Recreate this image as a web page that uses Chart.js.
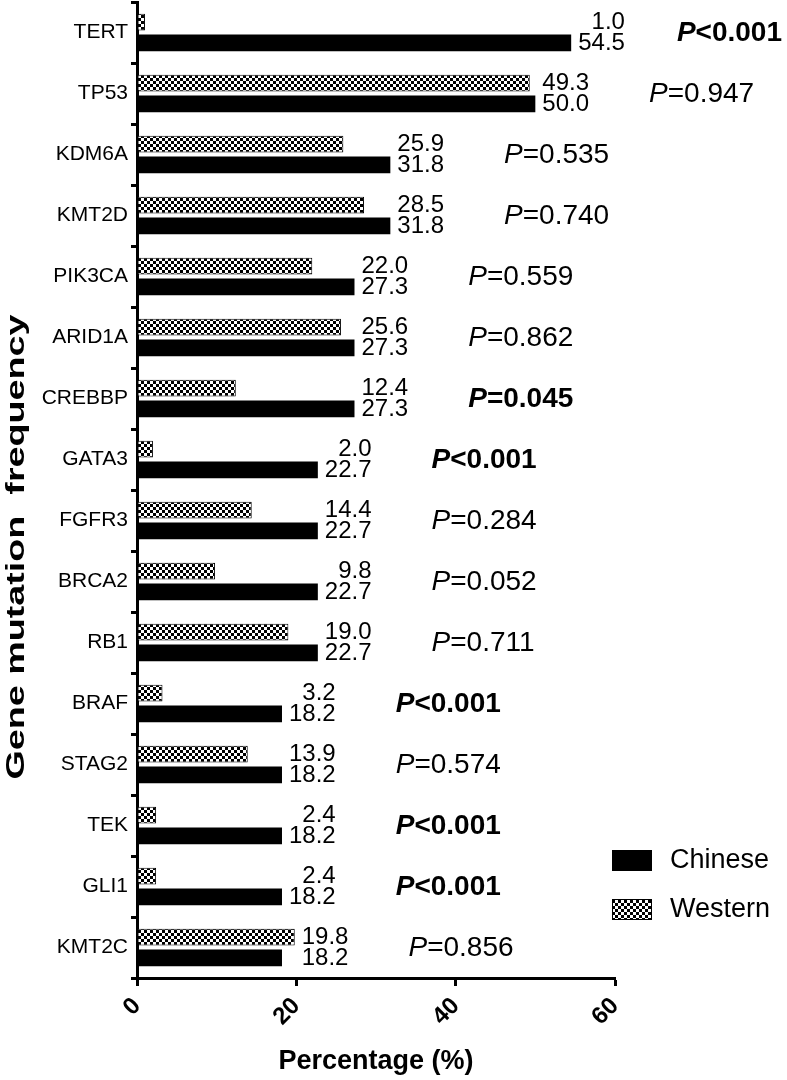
<!DOCTYPE html>
<html>
<head>
<meta charset="utf-8">
<script src="https://cdn.jsdelivr.net/npm/chart.js@4.4.1/dist/chart.umd.min.js"></script>
<style>
  body { margin: 0; background: #fff; }
  canvas { display: block; }
</style>
</head>
<body>
<canvas id="chart" width="787" height="1080"></canvas>
<script>
const genes = ['TERT', 'TP53', 'KDM6A', 'KMT2D', 'PIK3CA', 'ARID1A', 'CREBBP', 'GATA3',
    'FGFR3', 'BRCA2', 'RB1', 'BRAF', 'STAG2', 'TEK', 'GLI1', 'KMT2C'];
const chinese = [54.5, 50.0, 31.8, 31.8, 27.3, 27.3, 27.3, 22.7, 22.7, 22.7, 22.7, 18.2, 18.2, 18.2, 18.2, 18.2];
const western = [1.0, 49.3, 25.9, 28.5, 22.0, 25.6, 12.4, 2.0, 14.4, 9.8, 19.0, 3.2, 13.9, 2.4, 2.4, 19.8];
const pValues = ['<0.001', '=0.947', '=0.535', '=0.740', '=0.559', '=0.862', '=0.045', '<0.001',
    '=0.284', '=0.052', '=0.711', '<0.001', '=0.574', '<0.001', '<0.001', '=0.856'];
const xTicks = [0, 20, 40, 60];

const FONT = "'Liberation Sans', Arial, sans-serif";

const canvas = document.getElementById('chart');
const ctx = canvas.getContext('2d');

// checkerboard fill for the Western bars
function makeChecker() {
    const c = document.createElement('canvas');
    c.width = 6;
    c.height = 6;
    const g = c.getContext('2d');
    g.fillStyle = '#fff';
    g.fillRect(0, 0, 6, 6);
    g.fillStyle = '#000';
    g.fillRect(0, 0, 3, 3);
    g.fillRect(3, 3, 3, 3);
    return ctx.createPattern(c, 'repeat');
}
const checker = makeChecker();

// value labels + P values to the right of each pair of bars
const barLabels = {
    id: 'barLabels',
    afterDatasetsDraw(chart) {
        const c = chart.ctx;
        const west = chart.getDatasetMeta(0).data;
        const chin = chart.getDatasetMeta(1).data;
        c.save();
        c.fillStyle = '#000';
        c.textBaseline = 'middle';
        genes.forEach((g, i) => {
            const wTxt = western[i].toFixed(1);
            const cTxt = chinese[i].toFixed(1);
            c.font = '24px ' + FONT;
            const left = Math.max(west[i].x, chin[i].x) + 7;
            const right = left + Math.max(c.measureText(wTxt).width, c.measureText(cTxt).width);
            c.textAlign = 'right';
            c.fillText(wTxt, right, west[i].y);
            c.fillText(cTxt, right, chin[i].y + 1);

            const p = pValues[i];
            const bold = parseFloat(p.slice(1)) < 0.05;
            const pFont = (bold ? 'italic bold ' : 'italic ') + '28px ' + FONT;
            const restFont = (bold ? 'bold ' : '') + '28px ' + FONT;
            c.font = pFont;
            const pw = c.measureText('P').width;
            c.font = restFont;
            const rw = c.measureText(p).width;
            let x = right + 60;
            x = Math.min(x, chart.width - pw - rw - 5);
            const y = (west[i].y + chin[i].y) / 2 + 1;
            c.textAlign = 'left';
            c.font = pFont;
            c.fillText('P', x, y);
            c.font = restFont;
            c.fillText(p, x + pw, y);
        });
        c.restore();
    },
    afterDraw(chart) {
        const c = chart.ctx;
        const area = chart.chartArea;

        // y axis title, drawn by hand because it is stretched along its length
        c.save();
        c.fillStyle = '#000';
        c.font = 'bold 26px ' + FONT;
        c.textAlign = 'center';
        c.textBaseline = 'middle';
        c.translate(17, 547);
        c.rotate(-Math.PI / 2);
        c.scale(1.45, 1);
        c.fillText('Gene mutation  frequency', 0, 0);
        c.restore();

        // legend in the lower right corner
        const items = [chart.data.datasets[1], chart.data.datasets[0]];
        c.save();
        c.font = '27px ' + FONT;
        c.textBaseline = 'middle';
        c.textAlign = 'left';
        items.forEach((ds, k) => {
            const bx = area.right - 3;
            const by = area.bottom - 128 + k * 49;
            c.fillStyle = ds.backgroundColor;
            c.fillRect(bx, by, 40, 21);
            c.strokeStyle = '#000';
            c.lineWidth = 1;
            c.strokeRect(bx + 0.5, by + 0.5, 39, 20);
            c.fillStyle = '#000';
            c.fillText(ds.label, bx + 58, by + 11);
        });
        c.restore();
    }
};

new Chart(ctx, {
    type: 'bar',
    data: {
        labels: genes,
        datasets: [{
            label: 'Western',
            data: western,
            backgroundColor: checker,
            borderColor: '#000',
            borderWidth: 1,
            borderSkipped: false,
            categoryPercentage: 0.68,
            barPercentage: 0.8
        }, {
            label: 'Chinese',
            data: chinese,
            backgroundColor: '#000',
            borderWidth: 0,
            categoryPercentage: 0.68,
            barPercentage: 0.8
        }]
    },
    options: {
        indexAxis: 'y',
        responsive: false,
        animation: false,
        layout: { padding: { top: 2, right: 172, left: 0, bottom: 0 } },
        plugins: {
            legend: { display: false },
            tooltip: { enabled: false }
        },
        scales: {
            x: {
                min: 0,
                max: 60,
                afterBuildTicks: scale => { scale.ticks = xTicks.map(v => ({ value: v })); },
                afterFit: scale => {
                    scale.height = 102;
                    scale.paddingLeft = 0;
                    scale.paddingRight = 0;
                },
                border: { color: '#000', width: 3 },
                grid: { drawOnChartArea: false, drawTicks: true, tickLength: 8, tickWidth: 3, color: '#000' },
                ticks: {
                    color: '#000',
                    font: { family: FONT, size: 24, weight: 'bold' },
                    minRotation: 45,
                    maxRotation: 45,
                    padding: 6
                },
                title: {
                    display: true,
                    text: 'Percentage (%)',
                    color: '#000',
                    font: { family: FONT, size: 27, weight: 'bold' },
                    padding: { top: 0, bottom: 2 }
                }
            },
            y: {
                afterFit: scale => {
                    scale.width = 137;
                    scale.paddingTop = 0;
                    scale.paddingBottom = 0;
                },
                border: { color: '#000', width: 3 },
                grid: { drawOnChartArea: false, drawTicks: true, tickLength: 6, tickWidth: 3, color: '#000' },
                ticks: {
                    color: '#000',
                    font: { family: FONT, size: 21 },
                    padding: 3,
                    autoSkip: false
                }
            }
        }
    },
    plugins: [barLabels]
});
</script>
</body>
</html>
